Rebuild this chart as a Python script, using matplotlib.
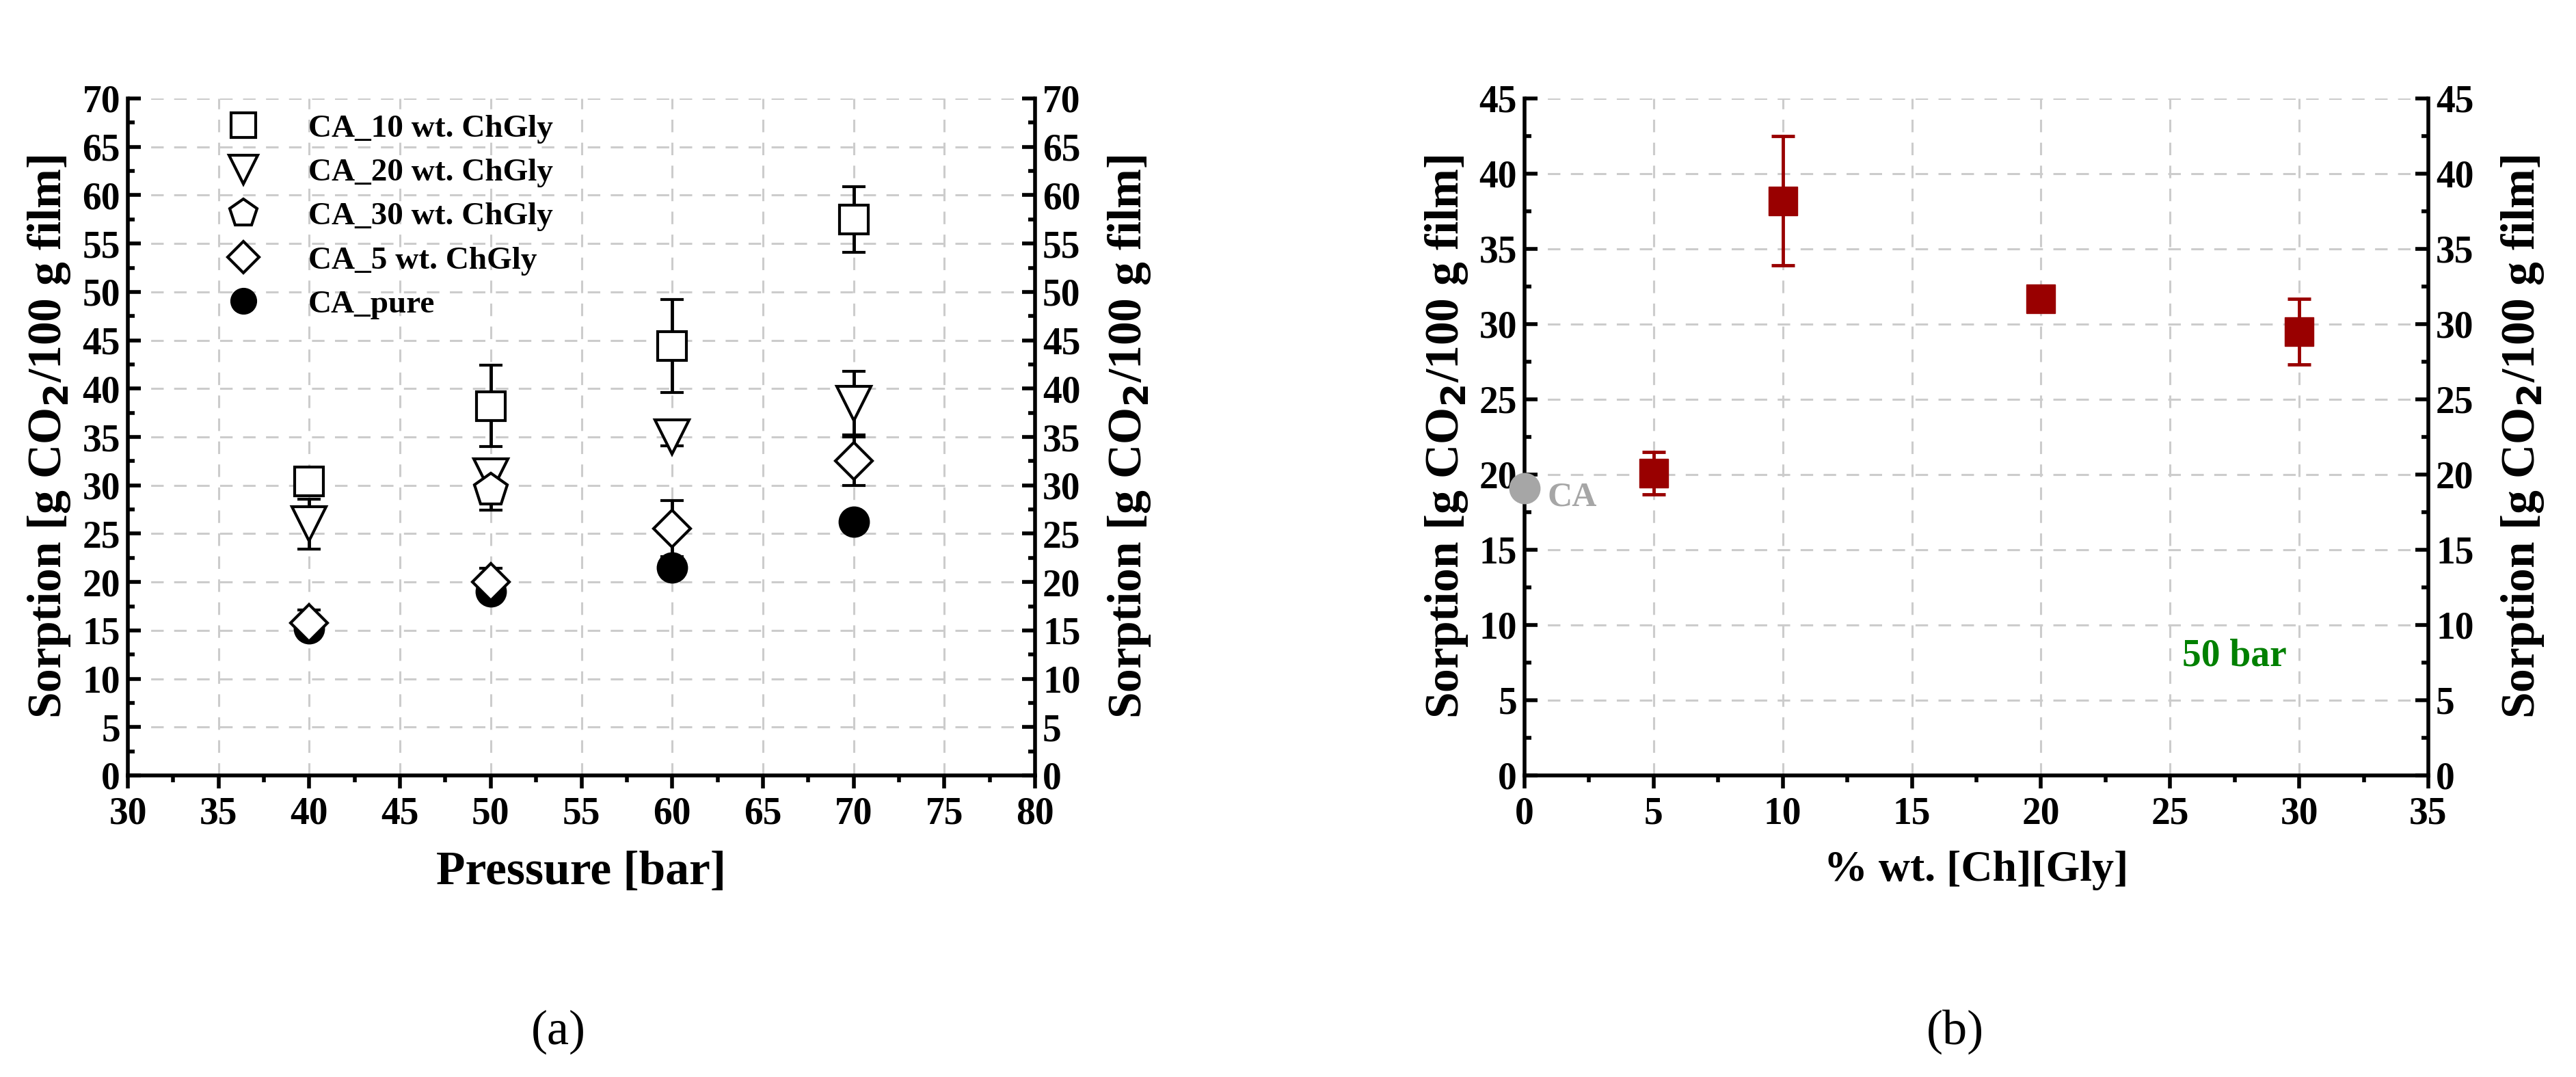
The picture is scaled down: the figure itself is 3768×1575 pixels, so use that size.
import matplotlib.pyplot as plt
from matplotlib.lines import Line2D
import numpy as np

plt.rcParams["font.family"] = ["Liberation Serif", "DejaVu Serif"]
plt.rcParams["font.weight"] = "bold"
plt.rcParams["mathtext.default"] = "bf"

# panel (a)
pressure = [40, 50, 60, 70]
ca10 = [30.4, 38.2, 44.4, 57.5]
ca10_err = [0.4, 4.2, 4.8, 3.4]
ca20 = [26.0, 31.0, 35.0, 38.5]
ca20_err = [2.6, 1.5, 0.9, 3.3]
ca30_p = [50]
ca30 = [29.5]
ca30_err = [2.1]
ca5 = [15.8, 20.0, 25.5, 32.5]
ca5_err = [1.3, 1.4, 2.9, 2.5]
pure = [15.2, 19.0, 21.5, 26.2]

# panel (b)
ca_x, ca_y = 0, 19.1
wt = [5, 10, 20, 30]
sorp = [20.1, 38.2, 31.7, 29.5]
sorp_err = [1.4, 4.3, 0.7, 2.2]

ylabel = r"Sorption [g CO$_2$/100 g film]"

fig = plt.figure(figsize=(37.68, 15.75), dpi=100)
W, H = 3768, 1575
axa = fig.add_axes([187 / W, 1 - 1134 / H, (1514 - 187) / W, (1134 - 144) / H])
axb = fig.add_axes([2230 / W, 1 - 1134 / H, (3552 - 2230) / W, (1134 - 144) / H])


def style(ax, xlim, ylim, xmaj, ymaj):
    ax.set_xlim(*xlim)
    ax.set_ylim(*ylim)
    ax.set_xticks(np.arange(xlim[0], xlim[1] + 0.1, xmaj))
    ax.set_xticks(np.arange(xlim[0], xlim[1] + 0.1, xmaj / 2), minor=True)
    ax.set_yticks(np.arange(ylim[0], ylim[1] + 0.1, ymaj))
    ax.set_yticks(np.arange(ylim[0], ylim[1] + 0.1, ymaj / 2), minor=True)
    ax.grid(True, color="#cccccc", linestyle=(0, (6, 5)), linewidth=2.2)
    ax.set_axisbelow(True)
    ax.spines["top"].set_visible(False)
    for s in ["left", "right", "bottom"]:
        ax.spines[s].set_linewidth(4)
    ax.tick_params(axis="y", which="both", direction="in", left=True, right=True,
                   labelleft=True, labelright=True, width=4, labelsize=40, pad=8)
    ax.tick_params(axis="y", which="major", length=14)
    ax.tick_params(axis="y", which="minor", length=7)
    ax.tick_params(axis="x", which="both", direction="out", width=4, labelsize=40, pad=8)
    ax.tick_params(axis="x", which="major", length=14)
    ax.tick_params(axis="x", which="minor", length=7)
    ax.set_ylabel(ylabel, fontsize=50, fontweight="bold", labelpad=10)
    r = ax.secondary_yaxis("right")
    r.set_yticks([])
    r.set_ylabel(ylabel, fontsize=50, fontweight="bold", labelpad=75)
    r.spines["right"].set_visible(False)


style(axa, (30, 80), (0, 70), 5, 5)
style(axb, (0, 35), (0, 45), 5, 5)

ekw = dict(ecolor="black", elinewidth=3.5, capsize=12, capthick=3.5, linestyle="none")
mk = dict(mfc="white", mec="black", mew=3)
axa.errorbar(pressure, ca10, yerr=ca10_err, marker="s", ms=30, **mk, **ekw)
axa.errorbar(pressure, ca20, yerr=ca20_err, marker="v", ms=36, **mk, **ekw)
axa.errorbar(ca30_p, ca30, yerr=ca30_err, marker="p", ms=36, **mk, **ekw)
axa.errorbar(pressure, ca5, yerr=ca5_err, marker="D", ms=28, **mk, **ekw)
axa.plot(pressure, pure, "o", ms=32, color="black", linestyle="none")
axa.set_xlabel("Pressure [bar]", fontsize=50, fontweight="bold", labelpad=20)

handles = [
    Line2D([], [], marker="s", ms=30, ls="none", **mk),
    Line2D([], [], marker="v", ms=36, ls="none", **mk),
    Line2D([], [], marker="p", ms=36, ls="none", **mk),
    Line2D([], [], marker="D", ms=28, ls="none", **mk),
    Line2D([], [], marker="o", ms=32, ls="none", color="black"),
]
labels = ["CA_10 wt. ChGly", "CA_20 wt. ChGly", "CA_30 wt. ChGly", "CA_5 wt. ChGly", "CA_pure"]
axa.legend(handles, labels, loc="upper left", bbox_to_anchor=(0.06, 1.02), frameon=False,
           fontsize=34, handletextpad=1.0, labelspacing=0.45, markerscale=0.85)

axb.plot([ca_x], [ca_y], "o", ms=32, color="#a6a6a6", clip_on=False, zorder=5)
axb.text(ca_x + 0.9, ca_y - 0.6, "CA", color="#a6a6a6", fontsize=36, fontweight="bold",
         va="center")
axb.errorbar(wt, sorp, yerr=sorp_err, marker="s", ms=30, color="#990000", ecolor="#990000",
             elinewidth=3.5, capsize=12, capthick=3.5, linestyle="none")
axb.text(27.5, 7.3, "50 bar", color="#008000", fontsize=40, fontweight="bold", ha="center")
axb.set_xlabel("% wt. [Ch][Gly]", fontsize=46, fontweight="bold", labelpad=20)

fig.text(817 / W, 1 - 1509 / H, "(a)", fontsize=52, ha="center", va="center",
         fontweight="normal")
fig.text(2860 / W, 1 - 1509 / H, "(b)", fontsize=52, ha="center", va="center",
         fontweight="normal")

fig.savefig("out.png", dpi=100)
